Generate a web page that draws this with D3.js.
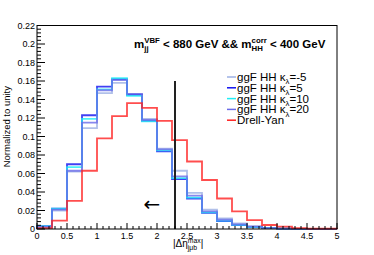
<!DOCTYPE html>
<html>
<head>
<meta charset="utf-8">
<script src="https://cdn.jsdelivr.net/npm/d3@7"></script>
<style>
  body { margin: 0; background: #fff; }
  svg { display: block; font-family: "Liberation Sans", Arial, sans-serif; }
  text { white-space: pre; }
</style>
</head>
<body>
<svg id="chart" width="374" height="255"></svg>
<script>
// bin edges: 20 bins of 0.25 from 0 to 5
var binWidth = 0.25;
var nBins = 20;

// normalized yields per bin
var kMinus5 = [0.002, 0.020, 0.062, 0.109, 0.147, 0.158, 0.146, 0.119, 0.087, 0.063, 0.039, 0.021, 0.0115, 0.006, 0.003, 0.0012, 0.0005, 0.0002, 0.0001, 0];
var k5      = [0.003, 0.022, 0.070, 0.123, 0.154, 0.162, 0.145, 0.117, 0.084, 0.054, 0.033, 0.0175, 0.0086, 0.0043, 0.002, 0.001, 0.0003, 0.0001, 0, 0];
var k10     = [0.003, 0.022, 0.067, 0.119, 0.151, 0.163, 0.144, 0.1165, 0.085, 0.055, 0.034, 0.018, 0.009, 0.0045, 0.002, 0.001, 0.0003, 0.0001, 0, 0];
var k20     = [0.0025, 0.021, 0.063, 0.115, 0.150, 0.161, 0.146, 0.118, 0.086, 0.057, 0.036, 0.019, 0.010, 0.005, 0.0025, 0.001, 0.0004, 0.0001, 0, 0];
var drellYan = [0.001, 0.009, 0.0305, 0.063, 0.098, 0.122, 0.136, 0.131, 0.117, 0.096, 0.073, 0.053, 0.033, 0.019, 0.0097, 0.0043, 0.0025, 0.001, 0.0005, 0.0003];

var seriesColors = ["#9db0e4", "#1010f0", "#20eef5", "#6a6ae8", "#ff2020"];

var xTicks = [0, 0.5, 1, 1.5, 2, 2.5, 3, 3.5, 4, 4.5, 5];
var yTicks = [0, 0.02, 0.04, 0.06, 0.08, 0.1, 0.12, 0.14, 0.16, 0.18, 0.2, 0.22];
var cutValue = 2.3;
var cutHeight = 0.16;

var svg = d3.select("#chart");
var plotLeft = 37, plotRight = 337, plotTop = 25.5, plotBottom = 229;

var x = d3.scaleLinear().domain([0, 5]).range([plotLeft, plotRight]);
var y = d3.scaleLinear().domain([0, 0.22]).range([plotBottom, plotTop]);

// rich text helper: parts = [{t, sub, sup}]
function richText(g, x0, y0, parts, size, weight) {
    var cx = x0;
    parts.forEach(function(p) {
        if (p.t) {
            var t = g.append("text").attr("x", cx).attr("y", y0)
                .attr("font-size", size).attr("font-weight", weight).text(p.t);
            cx += t.node().getComputedTextLength();
        }
        var w = 0;
        if (p.sup) {
            var s = g.append("text").attr("x", cx).attr("y", y0 - size * 0.42)
                .attr("font-size", size * 0.68).attr("font-weight", weight).text(p.sup);
            w = Math.max(w, s.node().getComputedTextLength());
        }
        if (p.sub) {
            var b = g.append("text").attr("x", cx).attr("y", y0 + size * 0.3)
                .attr("font-size", size * 0.68).attr("font-weight", weight).text(p.sub);
            w = Math.max(w, b.node().getComputedTextLength());
        }
        cx += w;
    });
    return cx;
}

// histograms
function histPoints(vals) {
    var pts = [[0, 0]];
    vals.forEach(function(v, i) {
        pts.push([i * binWidth, v]);
        pts.push([(i + 1) * binWidth, v]);
    });
    pts.push([nBins * binWidth, 0]);
    return pts;
}
var line = d3.line().x(function(d) { return x(d[0]); }).y(function(d) { return y(d[1]); });

var allSeries = [kMinus5, k5, k10, k20, drellYan];
svg.append("g").selectAll("path")
    .data(allSeries)
    .enter()
    .append("path")
    .attr("d", function(d) { return line(histPoints(d)); })
    .attr("fill", "none")
    .attr("stroke", function(d, i) { return seriesColors[i]; })
    .attr("stroke-width", 1.8)
    .attr("stroke-opacity", 0.8);

// cut line
svg.append("line")
    .attr("x1", x(cutValue)).attr("x2", x(cutValue))
    .attr("y1", y(0)).attr("y2", y(cutHeight))
    .attr("stroke", "#222").attr("stroke-width", 2);

// arrow
svg.append("text").attr("x", 152).attr("y", 211)
    .attr("text-anchor", "middle").attr("font-size", 20)
    .attr("font-family", "DejaVu Sans").text("\u2190");

// frame
svg.append("rect").attr("x", plotLeft).attr("y", plotTop)
    .attr("width", plotRight - plotLeft).attr("height", plotBottom - plotTop)
    .attr("fill", "none").attr("stroke", "#000").attr("stroke-width", 1);

// x ticks
var xMinor = d3.range(0, 5.0001, 0.1);
svg.append("g").selectAll("line").data(xMinor).enter().append("line")
    .attr("x1", function(d) { return x(d); }).attr("x2", function(d) { return x(d); })
    .attr("y1", plotBottom)
    .attr("y2", function(d, i) { return i % 5 === 0 ? plotBottom - 6 : plotBottom - 3; })
    .attr("stroke", "#000").attr("stroke-width", 1);
svg.append("g").selectAll("text").data(xTicks).enter().append("text")
    .attr("x", function(d) { return x(d); }).attr("y", 239)
    .attr("text-anchor", "middle").attr("font-size", 9)
    .text(function(d) { return d; });

// y ticks
var yMinor = d3.range(0, 0.2201, 0.004);
svg.append("g").selectAll("line").data(yMinor).enter().append("line")
    .attr("y1", function(d) { return y(d); }).attr("y2", function(d) { return y(d); })
    .attr("x1", plotLeft)
    .attr("x2", function(d, i) { return i % 5 === 0 ? plotLeft + 8 : plotLeft + 4; })
    .attr("stroke", "#000").attr("stroke-width", 1);
svg.append("g").selectAll("text").data(yTicks).enter().append("text")
    .attr("x", 35).attr("y", function(d) { return y(d) + 3.2; })
    .attr("text-anchor", "end").attr("font-size", 9)
    .text(function(d) { return d; });

// axis titles
svg.append("text")
    .attr("transform", "translate(10,86) rotate(-90)")
    .attr("text-anchor", "end").attr("font-size", 9.5)
    .text("Normalized to unity");
richText(svg.append("g"), 173, 247, [{t: "|\u0394\u03b7", sup: "max", sub: "j\u03bcb"}, {t: "|"}], 10, "normal");

// title
richText(svg.append("g"), 134, 48,
    [{t: "m", sup: "VBF", sub: "jj"}, {t: " < 880 GeV && m", sup: "corr", sub: "HH"}, {t: " < 400 GeV"}],
    11.5, "bold");

// legend
var legendLabels = [
    [{t: "ggF HH \u03ba", sub: "\u03bb"}, {t: "=-5"}],
    [{t: "ggF HH \u03ba", sub: "\u03bb"}, {t: "=5"}],
    [{t: "ggF HH \u03ba", sub: "\u03bb"}, {t: "=10"}],
    [{t: "ggF HH \u03ba", sub: "\u03bb"}, {t: "=20"}],
    [{t: "Drell-Yan"}]
];
var legend = svg.append("g");
legendLabels.forEach(function(lbl, i) {
    var ly = 77 + i * 10.8;
    legend.append("line").attr("x1", 227).attr("x2", 236)
        .attr("y1", ly).attr("y2", ly)
        .attr("stroke", seriesColors[i]).attr("stroke-width", 1.5);
    richText(legend.append("g"), 237, ly + 4, lbl, 11.5, "normal");
});
</script>
</body>
</html>
